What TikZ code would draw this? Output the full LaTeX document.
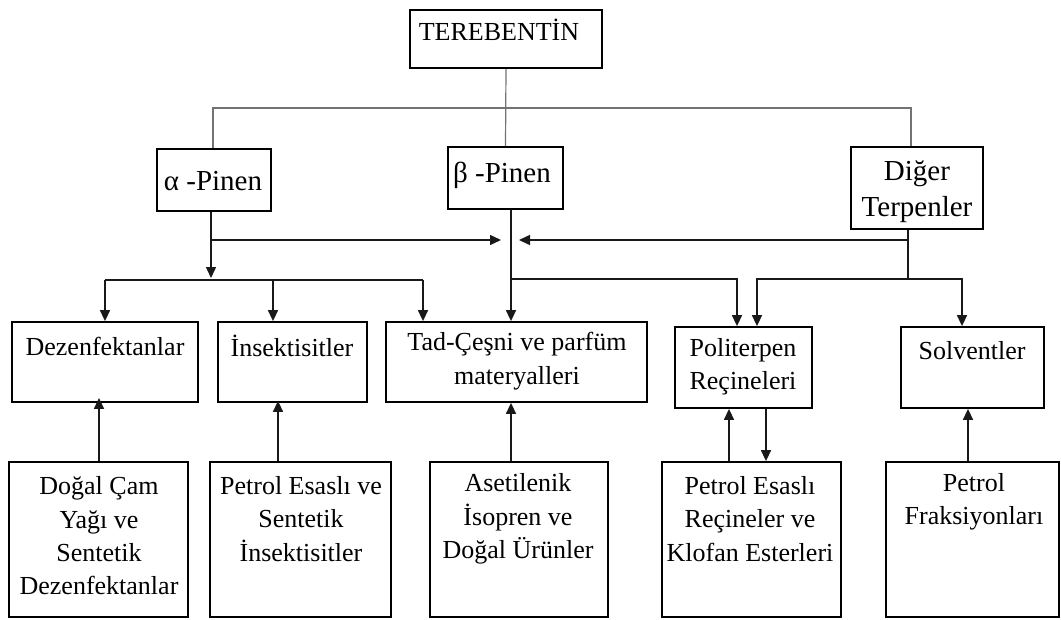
\documentclass[tikz,border=0pt]{standalone}
\usepackage{fontspec}
\setmainfont{Liberation Serif}
\usetikzlibrary{arrows.meta}
\begin{document}
\begin{tikzpicture}[x=1pt,y=-1pt,
  box/.style={draw=black,line width=1.8pt,inner sep=0pt,rectangle},
  txt/.style={inner sep=0pt,align=center,font=\fontsize{26}{33.3}\selectfont},
  bigtxt/.style={inner sep=0pt,align=center,font=\fontsize{29}{36}\selectfont},
  conn/.style={line width=1.5pt,draw=black!90},
  thin/.style={line width=1.2pt,draw=black!55},
  arr/.style={conn,-{Triangle[length=11pt,width=10pt]}}]
\useasboundingbox (0,0) rectangle (1061,619);
% boxes
\node[box,minimum width=192,minimum height=58] (ter) at (506,39) {};
\node[box,minimum width=114,minimum height=62] (alpha) at (214,180) {};
\node[box,minimum width=115,minimum height=62] (beta) at (505.5,178) {};
\node[box,minimum width=132,minimum height=82] (diger) at (917,188) {};
\node[box,minimum width=186,minimum height=80] (dez) at (105,362) {};
\node[box,minimum width=149,minimum height=80] (ins) at (292.5,362) {};
\node[box,minimum width=261,minimum height=80] (tad) at (516.5,362) {};
\node[box,minimum width=137,minimum height=81] (pol) at (743.5,367.5) {};
\node[box,minimum width=143,minimum height=81] (sol) at (972.5,367.5) {};
\node[box,minimum width=179,minimum height=155] (dog) at (98.5,539.5) {};
\node[box,minimum width=181,minimum height=155] (pei) at (300.5,539.5) {};
\node[box,minimum width=178,minimum height=155] (ase) at (519,539.5) {};
\node[box,minimum width=179,minimum height=155] (per) at (751.5,539.5) {};
\node[box,minimum width=173,minimum height=155] (pfr) at (972.5,539.5) {};
% texts
\node[txt] (terT) at (499,30) {TEREBENTİN};
\node[bigtxt] (alphaT) at (213,181) {α -Pinen};
\node[bigtxt] (betaT) at (502,175) {β -Pinen};
\node[bigtxt] (digerT) at (917,192) {Diğer\\Terpenler};
\node[txt] (dezT) at (105,346) {Dezenfektanlar};
\node[txt] (insT) at (292,346) {İnsektisitler};
\node[txt] (tadT) at (517,361) {Tad-Çeşni ve parfüm\\materyalleri};
\node[txt] (polT) at (743,367) {Politerpen\\Reçineleri};
\node[txt] (solT) at (972,351) {Solventler};
\node[txt] (dogT) at (99,536) {Doğal Çam\\Yağı ve\\Sentetik\\Dezenfektanlar};
\node[txt] (peiT) at (301,519) {Petrol Esaslı ve\\Sentetik\\İnsektisitler};
\node[txt] (aseT) at (518,519) {Asetilenik\\İsopren ve\\Doğal Ürünler};
\node[txt] (perT) at (750,519) {Petrol Esaslı\\Reçineler ve\\Klofan Esterleri};
\node[txt] (pfrT) at (974,502) {Petrol\\Fraksiyonları};
% coordinates
\coordinate (aS) at (alpha.south -| 211,0);
\coordinate (bS) at (beta.south -| 511,0);
\coordinate (dS) at (diger.south -| 908,0);
\coordinate (aJ) at (211,278);
\coordinate (lt) at (501,240);
\coordinate (rt) at (519,240);
\coordinate (dJ) at (908,279);
\coordinate (busL) at (213,108);
\coordinate (busR) at (911,108);
% top connectors
\draw[thin] (ter.south) -- (beta.north);
\draw[thin] (alpha.north -| busL) -- (busL) -- (busR) -- (diger.north -| busR);
% middle
\draw[arr] (aS) -- (aJ);
\draw[arr] (aS |- lt) -- (lt);
\draw[arr] (dS |- rt) -- (rt);
\draw[conn] (dS) -- (dJ);
\draw[arr] (bS) -- (tad.north -| bS);
\draw[arr] (bS |- dJ) -| ([xshift=-6.5pt]pol.north);
\draw[arr] (dJ) -| ([xshift=13.5pt]pol.north);
\draw[arr] (dJ) -| ([xshift=-10.5pt]sol.north);
\draw[conn] (105,280) -- (423,280);
\draw[arr] (105,280) -- (dez.north);
\draw[arr] (273,280) -- (ins.north -| 273,0);
\draw[arr] (423,280) -- (tad.north -| 423,0);
% bottom
\draw[arr] (dog.north -| 99,0) -- ([yshift=5pt]dez.south -| 99,0);
\draw[arr] (pei.north -| 278,0) -- ([yshift=2pt]ins.south -| 278,0);
\draw[arr] (ase.north -| 511,0) -- (tad.south -| 511,0);
\draw[arr] (per.north -| 729,0) -- (pol.south -| 729,0);
\draw[arr] (pol.south -| 766,0) -- (per.north -| 766,0);
\draw[arr] (pfr.north -| 968,0) -- (sol.south -| 968,0);
\end{tikzpicture}
\end{document}
